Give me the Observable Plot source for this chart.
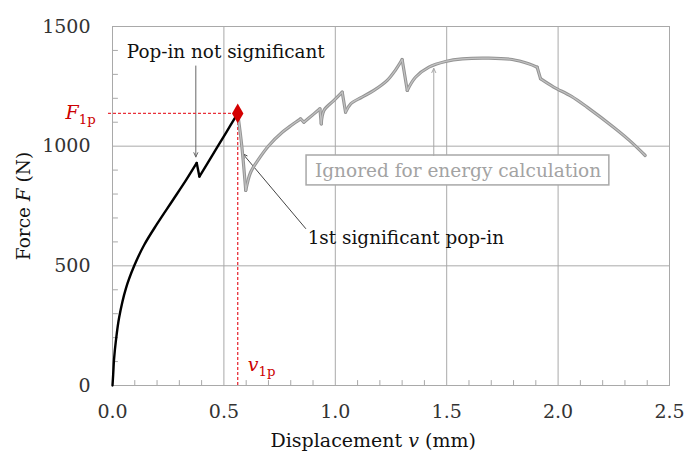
<!DOCTYPE html>
<html><head><meta charset="utf-8">
<script src="https://cdn.jsdelivr.net/npm/d3@7"></script>
<script src="https://cdn.jsdelivr.net/npm/@observablehq/plot@0.6"></script>
<style>html,body{margin:0;padding:0;background:#fff;}</style>
</head><body><div id="chart"></div>
<script>
// Black (used) part of the force-displacement curve
const elasticX = [0, 0.003, 0.007, 0.015, 0.03, 0.06, 0.097, 0.142, 0.2, 0.269, 0.33, 0.378, 0.39, 0.45, 0.51, 0.562];
const elasticF = [0, 45, 110, 185, 285, 405, 499, 587, 675, 772, 858, 930, 873, 965, 1057, 1137];
const elasticCorners = [0.378, 0.39];
// Grey (ignored) part
const grayX = [0.562, 0.58, 0.598, 0.62, 0.657, 0.702, 0.762, 0.80, 0.822, 0.844, 0.859, 0.904, 0.931, 0.937, 0.949, 0.994, 1.031, 1.046, 1.069, 1.12, 1.173, 1.233, 1.27, 1.30, 1.323, 1.36, 1.42, 1.495, 1.57, 1.689, 1.794, 1.868, 1.906, 1.921, 1.98, 2.06, 2.13, 2.249, 2.32, 2.391];
const grayF = [1137, 1003, 815, 891, 947, 1003, 1058, 1085, 1100, 1114, 1100, 1135, 1156, 1093, 1149, 1191, 1226, 1142, 1177, 1205, 1233, 1275, 1318, 1362, 1233, 1288, 1330, 1354, 1365, 1368, 1362, 1344, 1330, 1282, 1247, 1208, 1163, 1079, 1024, 961];
const grayCorners = [0.598, 0.844, 0.859, 0.931, 0.937, 1.031, 1.046, 1.30, 1.323, 1.906, 1.921];
// First significant pop-in
const v1p = 0.562;
const F1p = 1137;
// Axes
const xTicks = [0, 0.5, 1, 1.5, 2, 2.5];
const yTicks = [0, 500, 1000, 1500];
const xGrid = [0.5, 1, 1.5, 2];
const yGrid = [500, 1000];
const xMinor = [0.1,0.2,0.3,0.4,0.6,0.7,0.8,0.9,1.1,1.2,1.3,1.4,1.6,1.7,1.8,1.9,2.1,2.2,2.3,2.4];
const yMinor = [100,200,300,400,600,700,800,900,1100,1200,1300,1400];
// Annotations
const arrows = [
  {x1: 0.374, y1: 1335, x2: 0.374, y2: 955, c: "#666"},
  {x1: 0.867, y1: 656, x2: 0.585, y2: 968, c: "#444"},
  {x1: 1.442, y1: 961, x2: 1.442, y2: 1325, c: "#a8a8a8"}
];
const box = [{x1: 0.871, x2: 2.230, y1: 836, y2: 961}];
const notes = [
  {x: 0.064, y: 1393, t: "Pop-in not significant"},
  {x: 0.876, y: 616, t: "1st significant pop-in"}
];
const boxLabel = [{x: 1.551, y: 896, t: "Ignored for energy calculation"}];

// split a curve into smooth pieces at its sharp corners (corner points shared)
function segments(xs, ys, corners) {
  const out = [];
  let seg = 0;
  xs.forEach((x, i) => {
    out.push({x, y: ys[i], seg});
    if (corners.includes(x) && i < xs.length - 1) { seg++; out.push({x, y: ys[i], seg}); }
  });
  return out;
}
const elastic = segments(elasticX, elasticF, elasticCorners);
const gray = segments(grayX, grayF, grayCorners);
const tickShapeUp = {draw(c, l) { c.moveTo(0, 0); c.lineTo(0, -l); }};
const gridC = "#a9a9a9";

const plot = Plot.plot({
  width: 685, height: 453,
  marginLeft: 112, marginRight: 16, marginTop: 26, marginBottom: 68,
  x: {domain: [0, 2.5], axis: null},
  y: {domain: [0, 1500], axis: null},
  style: {fontFamily: "DejaVu Serif", fontSize: "19px", background: "white"},
  marks: [
    Plot.ruleX(xGrid, {stroke: gridC, strokeWidth: 1}),
    Plot.ruleY(yGrid, {stroke: gridC, strokeWidth: 1}),
    Plot.frame({stroke: gridC, strokeWidth: 1}),
    Plot.vector(xMinor, {x: d => d, y: 0, length: 5, anchor: "start", rotate: 0, shape: tickShapeUp, stroke: gridC, strokeWidth: 1}),
    Plot.vector(yMinor, {x: 0, y: d => d, length: 5, anchor: "start", rotate: 90, shape: tickShapeUp, stroke: gridC, strokeWidth: 1}),
    Plot.axisX({ticks: xTicks, tickSize: 0, tickPadding: 19, tickFormat: d3.format(".1f"), fill: "#333", fontSize: 19, label: null}),
    Plot.axisY({ticks: yTicks, tickSize: 0, tickPadding: 22, tickFormat: d => String(d), fill: "#333", fontSize: 19, label: null}),
    Plot.rect(box, {x1: "x1", x2: "x2", y1: "y1", y2: "y2", fill: "white", stroke: "#a8a8a8", strokeWidth: 1.5}),
    Plot.text(boxLabel, {x: "x", y: "y", text: "t", fill: "#a3a3a3", fontSize: 18.5}),
    Plot.arrow(arrows, {x1: "x1", y1: "y1", x2: "x2", y2: "y2", stroke: d => d.c, strokeWidth: 1, headLength: 7, headAngle: 50}),
    Plot.ruleY([F1p], {x1: -0.018, x2: v1p, stroke: "#e8303a", strokeWidth: 1.3, strokeDasharray: "3,2"}),
    Plot.ruleX([v1p], {y1: 0, y2: F1p, stroke: "#e8303a", strokeWidth: 1.3, strokeDasharray: "3,2"}),
    Plot.line(gray, {x: "x", y: "y", z: "seg", curve: "catmull-rom", stroke: "#949494", strokeWidth: 3.2}),
    Plot.line(gray, {x: "x", y: "y", z: "seg", curve: "catmull-rom", stroke: "#c2c2c2", strokeWidth: 1.2}),
    Plot.line(elastic, {x: "x", y: "y", z: "seg", curve: "catmull-rom", stroke: "#000", strokeWidth: 2.4}),
    Plot.dot([{x: v1p, y: F1p}], {x: "x", y: "y", symbol: "diamond", r: 6, fill: "#d40000"}),
    Plot.text(notes, {x: "x", y: "y", text: "t", textAnchor: "start", fill: "#111", fontSize: 18.4}),
    Plot.text(["F1p"], {x: -0.075, y: F1p, textAnchor: "end", fill: "#cc0000", fontSize: 19}),
    Plot.text(["v1p"], {x: 0.607, y: 85, textAnchor: "start", fill: "#cc0000", fontSize: 19}),
    Plot.text(["Force F (N)"], {frameAnchor: "left", textAnchor: "middle", lineAnchor: "middle", dx: -88, rotate: -90, fill: "#111", fontSize: 18.5}),
    Plot.text(["Displacement v (mm)"], {x: 1.17, frameAnchor: "bottom", lineAnchor: "middle", dy: 55, fill: "#111", fontSize: 19})
  ]
});

function rich(root, plain, parts) {
  root.querySelectorAll("text").forEach(t => {
    if (t.textContent === plain) {
      while (t.firstChild) t.removeChild(t.firstChild);
      for (const [s, st] of parts) {
        const ts = document.createElementNS("http://www.w3.org/2000/svg", "tspan");
        ts.textContent = s;
        if (st === "i") ts.setAttribute("font-style", "italic");
        if (st === "sub") { ts.setAttribute("font-size", "0.7em"); ts.setAttribute("dy", "0.35em"); }
        t.appendChild(ts);
      }
    }
  });
}
rich(plot, "F1p", [["F", "i"], ["1p", "sub"]]);
rich(plot, "v1p", [["v", "i"], ["1p", "sub"]]);
rich(plot, "Force F (N)", [["Force ", ""], ["F", "i"], [" (N)", ""]]);
rich(plot, "Displacement v (mm)", [["Displacement ", ""], ["v", "i"], [" (mm)", ""]]);

document.getElementById("chart").appendChild(plot);
</script>
</body></html>
